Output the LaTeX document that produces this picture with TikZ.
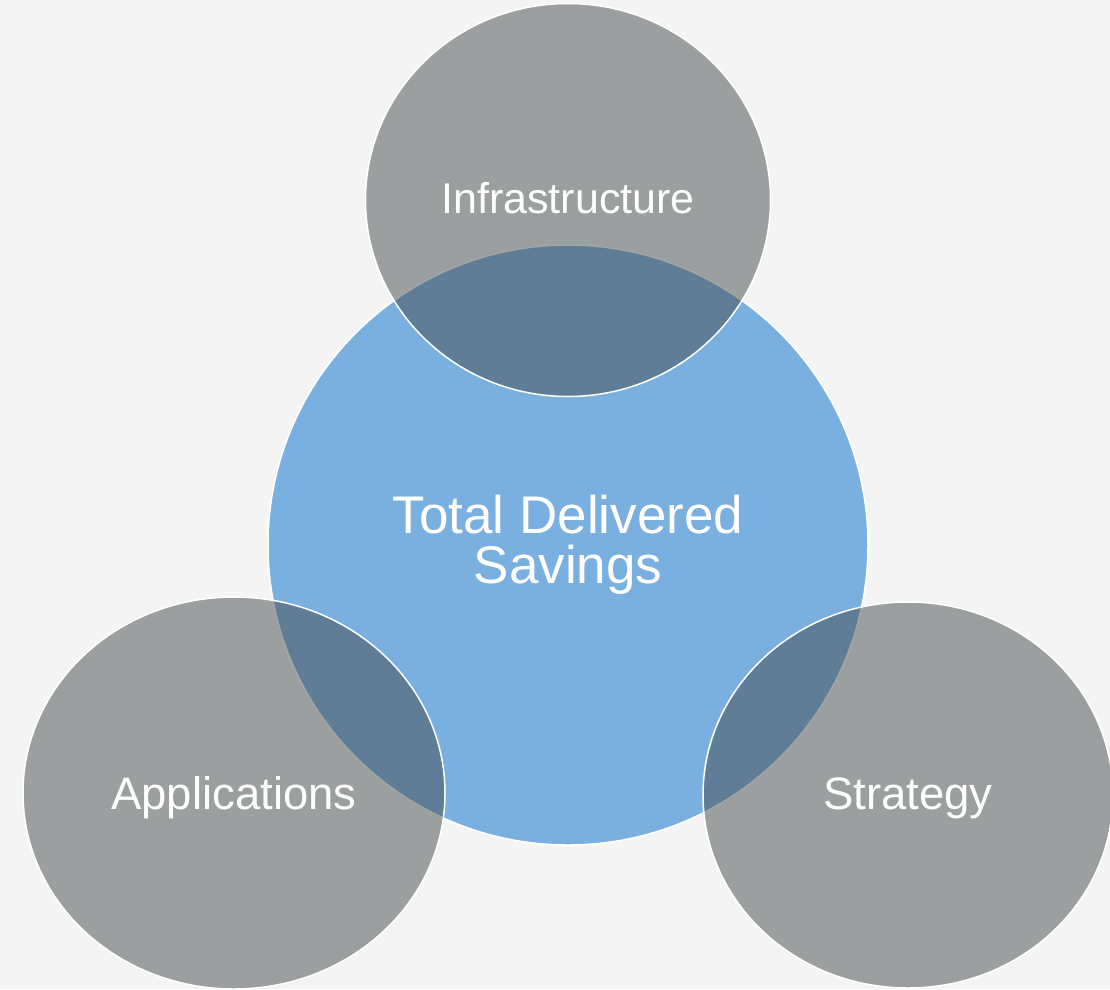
\documentclass[tikz,border=0pt]{standalone}
\usepackage{fontspec}
\setmainfont{Liberation Sans}
\usepackage{tikz}
\usetikzlibrary{shapes.geometric}

\definecolor{pagebg}{HTML}{F4F4F4}
\definecolor{savingsblue}{HTML}{7AB0DF}
\definecolor{slategray}{RGB}{70,76,78}

\begin{document}
\begin{tikzpicture}[x=1pt, y=-1pt,
  core/.style={circle, fill=savingsblue, draw=white, line width=1.5pt, minimum size=600pt, inner sep=0pt, text=white, align=center, font=\fontsize{53}{50}\selectfont},
  area/.style={ellipse, fill=slategray, fill opacity=0.5, text opacity=1, draw=white, line width=1.5pt, inner sep=0pt, text=white, text depth=0pt, font=\fontsize{45.5}{47}\selectfont}]

% sfondo
\useasboundingbox (0,0) rectangle (1110,989);
\fill[pagebg] (0,0) rectangle (1110,989);

% cerchio centrale
\node[core] (savings) at (568,545) {Total Delivered\\Savings};

% ellissi sovrapposte
\node[area, minimum width=405pt, minimum height=393pt, text height=26pt, font=\fontsize{43}{45}\selectfont] (infra) at (568,200) {Infrastructure}; % in alto
\node[area, minimum width=422pt, minimum height=392pt, text height=32pt] (apps) at (234,793) {Applications}; % a sinistra
\node[area, minimum width=410pt, minimum height=386pt, text height=28pt] (strategy) at (908,795) {Strategy}; % a destra

\end{tikzpicture}
\end{document}
